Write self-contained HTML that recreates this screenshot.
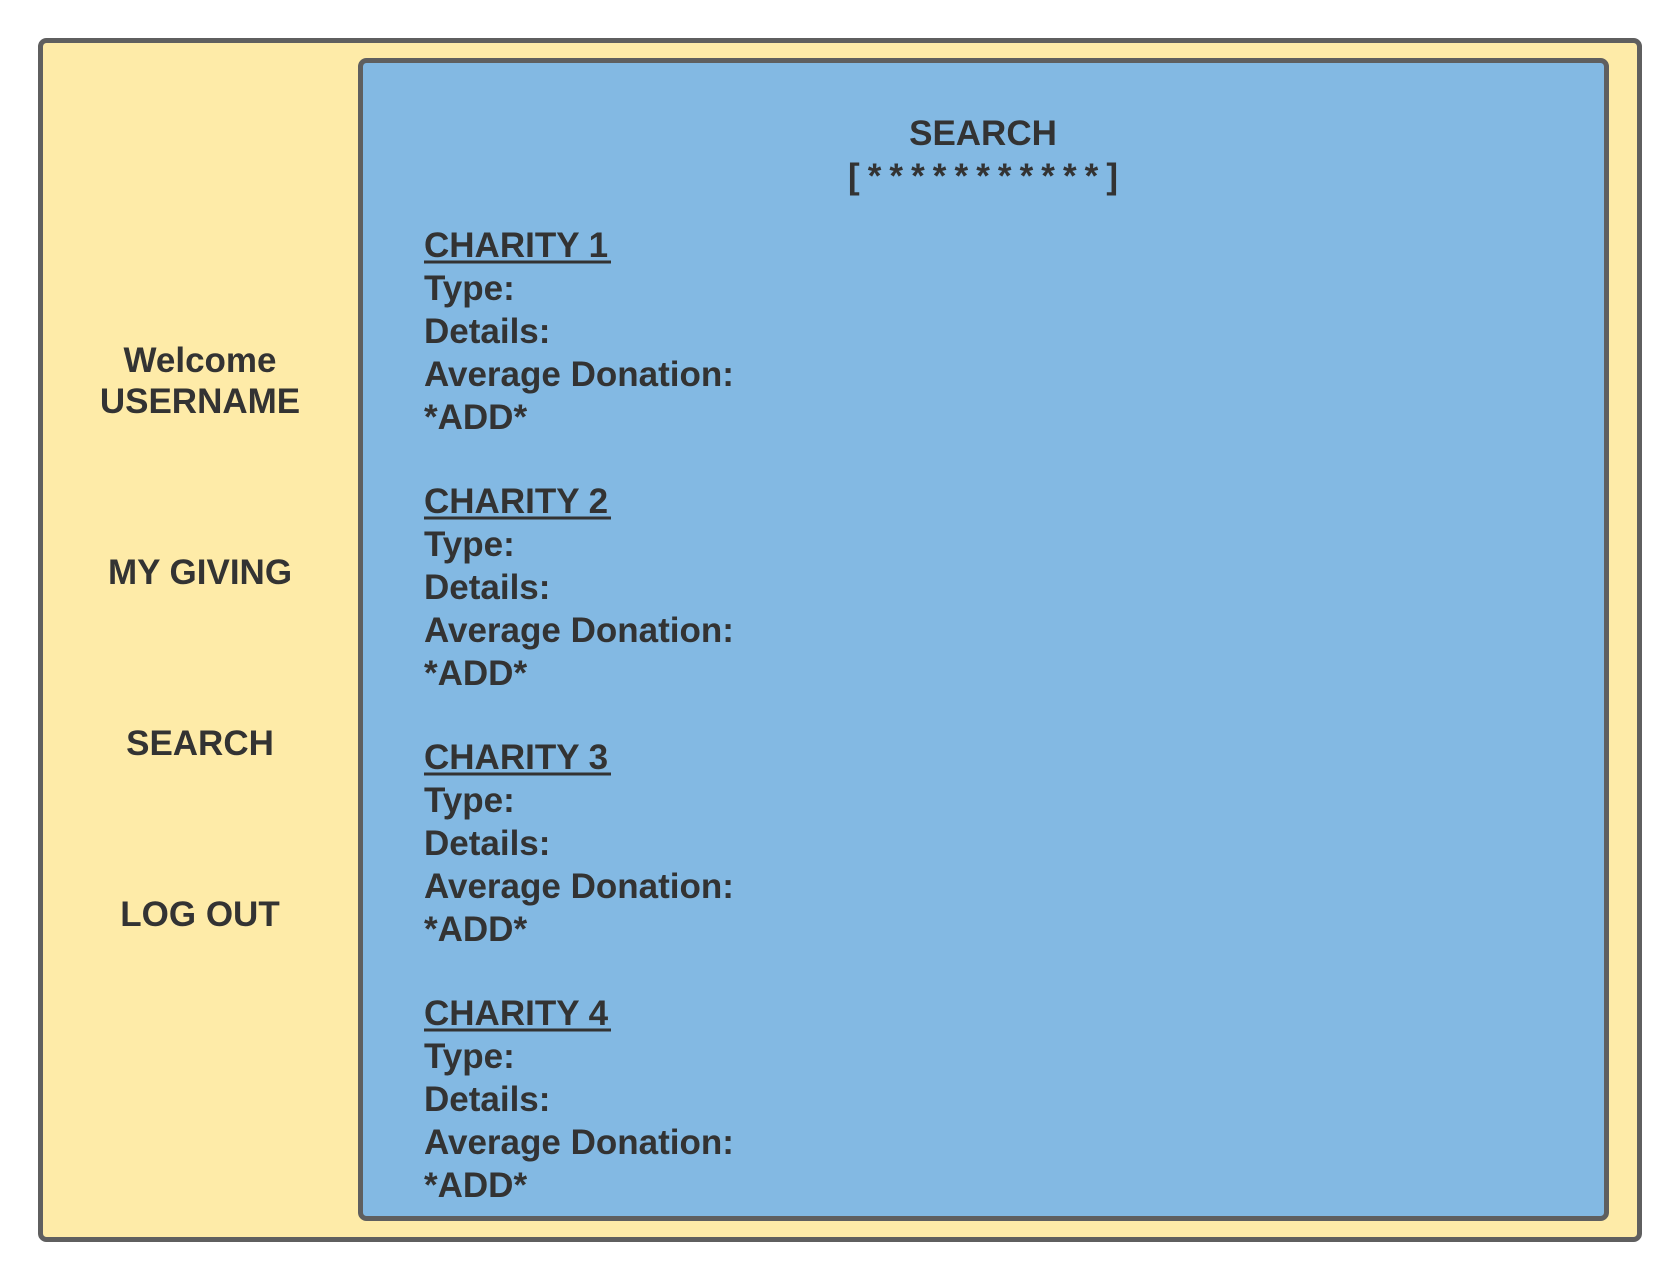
<!DOCTYPE html>
<html><head><meta charset="utf-8"><style>
html,body{margin:0;padding:0;background:#fff;width:1680px;height:1280px;overflow:hidden}
text{font-family:"Liberation Sans",sans-serif;font-weight:bold;fill:#333}
</style></head><body>
<svg width="1680" height="1280" viewBox="0 0 1680 1280" xmlns="http://www.w3.org/2000/svg">
<rect x="40.5" y="40.5" width="1599" height="1199" rx="6" fill="#FEEBA8" stroke="#5f5f5f" stroke-width="5"/>
<rect x="360.5" y="60.5" width="1246" height="1158" rx="6" fill="#83B9E3" stroke="#5f5f5f" stroke-width="5"/>
<g font-size="35" text-anchor="middle">
<text x="200" y="372">Welcome</text>
<text x="200" y="413">USERNAME</text>
<text x="200" y="584">MY GIVING</text>
<text x="200" y="755">SEARCH</text>
<text x="200" y="926">LOG OUT</text>
<text x="983" y="145">SEARCH</text>
</g>
<text x="848" y="188" font-size="35" textLength="270" lengthAdjust="spacing">[ * * * * * * * * * * * ]</text>
<g font-size="35">
<text x="424" y="257">CHARITY 1</text>
<text x="424" y="300">Type:</text><text x="424" y="343">Details:</text><text x="424" y="386">Average Donation:</text><text x="424" y="429">*ADD*</text>
<text x="424" y="513">CHARITY 2</text>
<text x="424" y="556">Type:</text><text x="424" y="599">Details:</text><text x="424" y="642">Average Donation:</text><text x="424" y="685">*ADD*</text>
<text x="424" y="769">CHARITY 3</text>
<text x="424" y="812">Type:</text><text x="424" y="855">Details:</text><text x="424" y="898">Average Donation:</text><text x="424" y="941">*ADD*</text>
<text x="424" y="1025">CHARITY 4</text>
<text x="424" y="1068">Type:</text><text x="424" y="1111">Details:</text><text x="424" y="1154">Average Donation:</text><text x="424" y="1197">*ADD*</text>
</g>
<g stroke="#333" stroke-width="3">
<line x1="424" y1="262" x2="611" y2="262"/><line x1="424" y1="518" x2="611" y2="518"/><line x1="424" y1="774" x2="611" y2="774"/><line x1="424" y1="1030" x2="611" y2="1030"/>
</g>
</svg>
</body></html>
